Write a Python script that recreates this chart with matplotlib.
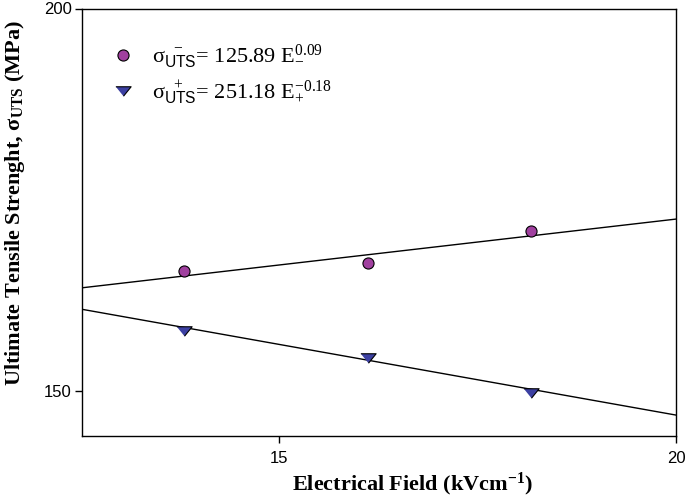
import matplotlib
matplotlib.use("Agg")
import matplotlib.pyplot as plt
from matplotlib.ticker import FixedLocator, NullLocator, FuncFormatter
from matplotlib.lines import Line2D

# Data
field = [14, 16, 18]                      # kV/cm
sigma_minus = [164.2, 165.1, 169.2]       # MPa (circles)
sigma_plus = [156.9, 153.8, 149.8]        # MPa (triangles)

# Fitted power-law lines (endpoints as drawn)
fit_field = [13, 20]
fit_minus = [162.1, 170.7]
fit_plus = [159.5, 147.3]

x_ticks = [15, 20]
y_ticks = [150, 200]

plt.rcParams['mathtext.fontset'] = 'custom'
plt.rcParams['mathtext.rm'] = 'Liberation Serif'
plt.rcParams['mathtext.it'] = 'Liberation Serif:italic'
plt.rcParams['mathtext.bf'] = 'Liberation Serif:bold'
plt.rcParams['mathtext.sf'] = 'Liberation Sans'

fig = plt.figure(figsize=(6.85, 4.99), dpi=100)
ax = fig.add_axes([82/685, 1 - 436/499, 594/685, 427.5/499])

ax.set_xscale('log')
ax.set_yscale('log')
ax.set_xlim(13, 20)
ax.set_ylim(145, 200)

circle_color = '#a0409f'
tri_color = '#3c40a2'
tri_marker = [(-1, 0.62), (1, 0.62), (0, -0.62)]

ax.plot(fit_field, fit_minus, color='black', lw=1.0, zorder=2)
ax.plot(fit_field, fit_plus, color='black', lw=1.0, zorder=2)
ax.plot(field, sigma_minus, linestyle='none', marker='o', ms=8,
        mfc=circle_color, mec='black', mew=0.8, zorder=3)
ax.plot(field, sigma_plus, linestyle='none', marker=tri_marker, ms=11,
        mfc=tri_color, mec='black', mew=0.8, zorder=3)

ax.xaxis.set_major_locator(FixedLocator(x_ticks))
ax.yaxis.set_major_locator(FixedLocator(y_ticks))
ax.xaxis.set_minor_locator(NullLocator())
ax.yaxis.set_minor_locator(NullLocator())
fmt = FuncFormatter(lambda v, p: f"{v:g}")
ax.xaxis.set_major_formatter(fmt)
ax.yaxis.set_major_formatter(fmt)
ax.tick_params(direction='out', length=5, width=1, labelsize=12)
ax.tick_params(axis='x', pad=6)
ax.tick_params(axis='y', pad=2.5)
for lab in ax.get_xticklabels() + ax.get_yticklabels():
    lab.set_fontfamily('Liberation Sans')
for s in ax.spines.values():
    s.set_linewidth(1.0)

ax.set_xlabel(r"Electrical Field (kVcm$^{\mathbf{-1}}$)", fontfamily='Liberation Serif',
              fontweight='bold', fontsize=16)
ax.set_ylabel(r"Ultimate Tensile Strenght, σ$_{\mathbf{UTS}}$ (MPa)", fontfamily='Liberation Serif',
              fontweight='bold', fontsize=16)
ax.xaxis.set_label_coords(0.556, -0.081)
ax.yaxis.set_label_coords(-0.093, 0.545)

handles = [
    Line2D([], [], linestyle='none', marker='o', ms=8, mfc=circle_color, mec='black', mew=0.8),
    Line2D([], [], linestyle='none', marker=tri_marker, ms=11, mfc=tri_color, mec='black', mew=0.8),
]
labels = [
    r"σ$_{\mathsf{UTS}}^{\ \ -}$= 125.89 E$_{-}^{0.09}$",
    r"σ$_{\mathsf{UTS}}^{\ \ +}$= 251.18 E$_{+}^{-0.18}$",
]
leg = ax.legend(handles, labels, loc='upper left', bbox_to_anchor=(0.017, 0.967),
                frameon=False, handlelength=1.0, handletextpad=0.8, labelspacing=0.35,
                prop={'family': 'Liberation Serif', 'size': 16})

fig.savefig('out.png', dpi=100)
